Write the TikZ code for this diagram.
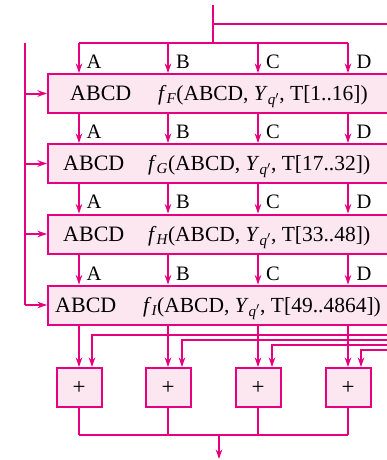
\documentclass[tikz,border=0pt]{standalone}
\usepackage{amsmath}
\usepackage{fontspec}
\setmainfont{Liberation Serif}
\usetikzlibrary{arrows.meta}
\definecolor{mg}{RGB}{230,0,126}
\definecolor{pk}{RGB}{252,230,240}
\newcommand{\fsub}[2]{\textit{#1}$_{\text{\itshape #2}}$}
\begin{document}
\begin{tikzpicture}[x=1pt,y=-1pt,
  wire/.style={draw=mg,line width=2pt},
  arr/.style={wire,-{Stealth[length=9.5pt,width=6.5pt]}},
  rbox/.style={draw=mg,fill=pk,line width=2pt,minimum width=352pt,minimum height=39pt,inner sep=0pt},
  abox/.style={draw=mg,fill=pk,line width=2pt,minimum width=45pt,minimum height=39pt,inner sep=0pt,font=\fontsize{23}{24}\selectfont},
  txt/.style={font=\fontsize{21.5}{24}\selectfont,inner sep=0pt,anchor=base west},
  abcd/.style={font=\fontsize{22}{24}\selectfont,inner sep=0pt,anchor=base west},
  lab/.style={font=\fontsize{20.5}{22}\selectfont,inner sep=0pt,anchor=base west}]
\useasboundingbox (0,0) rectangle (387,460);
\clip (0,0) rectangle (387,460);
% columns
\coordinate (cA) at (79,0);
\coordinate (cB) at (168,0);
\coordinate (cC) at (258,0);
\coordinate (cD) at (348,0);
% boxes
\node[rbox] (F) at (224,93.5) {};
\node[rbox] (G) at (224,163.5) {};
\node[rbox] (H) at (224,234) {};
\node[rbox] (I) at (224,305) {};
\node[abcd] (tF1) at (70,100.5) {ABCD};
\node[txt] (tF2) at (158,100.5) {\fsub{f}{F}(ABCD, \fsub{Y}{q$'$}, T[1..16])};
\node[abcd] (tG1) at (63,170.5) {ABCD};
\node[txt] (tG2) at (148,170.5) {\fsub{f}{G}(ABCD, \fsub{Y}{q$'$}, T[17..32])};
\node[abcd] (tH1) at (63,241) {ABCD};
\node[txt] (tH2) at (148,241) {\fsub{f}{H}(ABCD, \fsub{Y}{q$'$}, T[33..48])};
\node[abcd] (tI1) at (55,312) {ABCD};
\node[txt] (tI2) at (143,312) {\fsub{f}{I}(ABCD, \fsub{Y}{q$'$}, T[49..4864])};
% top input
\coordinate (top) at (213,5);
\coordinate (tj) at (213,24);
\coordinate (tR) at (400,24);
\coordinate (split) at (213,43);
\draw[wire] (top) -- (split);
\draw[wire] (tj) -- (tR);
\draw[wire] (cA |- split) -- (cD |- split);
\foreach \c in {cA,cB,cC,cD}{
  \draw[arr] (\c |- split) -- (\c |- F.north);
  \draw[arr] (\c |- F.south) -- (\c |- G.north);
  \draw[arr] (\c |- G.south) -- (\c |- H.north);
  \draw[arr] (\c |- H.south) -- (\c |- I.north);
}
% labels
\foreach \y/\r in {68/1,138/2,208/3,280/4}{
  \node[lab] (lA\r) at (86.5,\y) {A};
  \node[lab] (lB\r) at (176,\y) {B};
  \node[lab] (lC\r) at (266,\y) {C};
  \node[lab] (lD\r) at (356.5,\y) {D};
}
% left bus
\coordinate (lt) at (25,43);
\coordinate (lb) at (25,305);
\draw[wire] (lt) -- (lb);
\foreach \b in {F,G,H,I}{
  \draw[arr] (lt |- \b.west) -- (\b.west);
}
% adders
\node[abox] (s1) at (79,387.5) {+};
\node[abox] (s2) at (168,387.5) {+};
\node[abox] (s3) at (258,387.5) {+};
\node[abox] (s4) at (348,387.5) {+};
\draw[arr] (cA |- I.south) -- (s1.north);
\draw[arr] (cB |- I.south) -- (s2.north);
\draw[arr] (cC |- I.south) -- (s3.north);
\draw[arr] (cD |- I.south) -- (s4.north);
\coordinate (e1) at (92,335);   \coordinate (e1r) at (400,335);
\coordinate (e2) at (182,340);  \coordinate (e2r) at (400,340);
\coordinate (e3) at (272,345);  \coordinate (e3r) at (400,345);
\coordinate (e4) at (361,350);  \coordinate (e4r) at (400,350);
\draw[arr] (e1r) -- (e1) -- (e1 |- s1.north);
\draw[arr] (e2r) -- (e2) -- (e2 |- s2.north);
\draw[arr] (e3r) -- (e3) -- (e3 |- s3.north);
\draw[arr] (e4r) -- (e4) -- (e4 |- s4.north);
% output
\coordinate (bl) at (79,435);
\coordinate (br) at (348,435);
\coordinate (bm) at (219,435);
\coordinate (out) at (219,459);
\draw[wire] (s1.south) -- (s1.south |- bl);
\draw[wire] (s2.south) -- (s2.south |- bl);
\draw[wire] (s3.south) -- (s3.south |- bl);
\draw[wire] (s4.south) -- (s4.south |- bl);
\draw[wire] (bl) -- (br);
\draw[arr] (bm) -- (out);
\end{tikzpicture}
\end{document}
